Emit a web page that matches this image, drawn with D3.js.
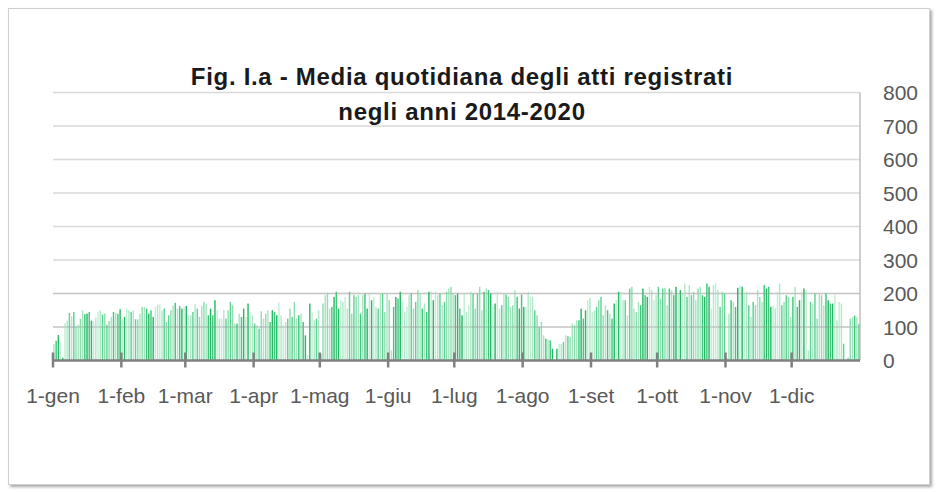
<!DOCTYPE html>
<html>
<head>
<meta charset="utf-8">
<script src="https://cdn.jsdelivr.net/npm/d3@7"></script>
<style>
	body { margin: 0; background: #fff; }
	svg { display: block; font-family: "Liberation Sans", Arial, sans-serif; }
</style>
</head>
<body>
<script>
// daily averages, one array per month (leap year, 366 days)
const gen = [49, 59, 76, 53, 8, 112, 119, 142, 132, 145, 102, 107, 125, 150, 138, 140, 145, 119, 117, 128, 145, 150, 137, 140, 107, 118, 130, 145, 142, 139, 153];
const feb = [125, 130, 155, 150, 145, 150, 123, 123, 140, 160, 160, 155, 140, 150, 130, 160, 167, 167, 150, 155, 115, 135, 150, 165, 172, 155, 163, 155, 160];
const mar = [163, 135, 135, 145, 168, 155, 130, 163, 175, 170, 135, 155, 135, 180, 150, 125, 125, 150, 125, 150, 175, 165, 110, 110, 140, 130, 155, 130, 170, 145, 135];
const apr = [110, 105, 95, 147, 125, 140, 150, 115, 150, 145, 135, 173, 135, 105, 115, 125, 155, 130, 175, 125, 135, 140, 115, 75, 17, 170, 145, 120, 125, 150];
const mag = [20, 170, 195, 200, 155, 160, 190, 205, 155, 180, 175, 190, 155, 205, 140, 195, 190, 195, 140, 195, 200, 155, 200, 180, 190, 160, 155, 200, 200, 145, 200];
const giu = [180, 30, 160, 190, 185, 205, 175, 145, 160, 195, 200, 155, 175, 210, 200, 155, 170, 145, 205, 207, 180, 205, 195, 200, 165, 175, 205, 215, 220, 200];
const lug = [195, 200, 155, 135, 200, 145, 165, 205, 200, 155, 200, 220, 150, 205, 215, 210, 200, 160, 170, 205, 155, 165, 200, 197, 190, 160, 165, 210, 190, 155, 197];
const ago = [160, 160, 205, 190, 190, 150, 135, 100, 115, 75, 65, 63, 60, 35, 3, 35, 50, 50, 55, 75, 73, 70, 110, 105, 120, 120, 155, 125, 150, 180, 187];
const set = [145, 150, 160, 180, 190, 135, 165, 150, 140, 125, 170, 180, 205, 205, 180, 180, 135, 215, 220, 155, 145, 175, 165, 215, 195, 190, 220, 210, 180, 195];
const ott = [220, 185, 215, 217, 165, 215, 210, 195, 220, 200, 210, 200, 230, 190, 225, 195, 205, 180, 215, 220, 195, 190, 230, 220, 155, 225, 230, 210, 160, 205, 200];
const nov = [8, 138, 180, 175, 160, 217, 223, 220, 200, 205, 165, 130, 175, 165, 210, 190, 175, 225, 215, 220, 160, 165, 155, 205, 230, 165, 175, 195, 190, 130];
const dic = [190, 220, 160, 180, 205, 215, 210, 30, 175, 170, 200, 125, 200, 195, 165, 200, 180, 170, 170, 195, 120, 175, 170, 50, 0, 8, 125, 129, 134, 129, 109];

const months = [gen, feb, mar, apr, mag, giu, lug, ago, set, ott, nov, dic];
const monthLabels = ["1-gen", "1-feb", "1-mar", "1-apr", "1-mag", "1-giu", "1-lug", "1-ago", "1-set", "1-ott", "1-nov", "1-dic"];
const yTicks = [0, 100, 200, 300, 400, 500, 600, 700, 800];
const titleLines = ["Fig. I.a - Media quotidiana degli atti registrati", "negli anni 2014-2020"];

const width = 937, height = 492;
const plot = { left: 53, right: 860, top: 92.5, bottom: 360.5 };

const values = months.flat();
const monthStart = [];
months.reduce((acc, m) => { monthStart.push(acc); return acc + m.length; }, 0);

const svg = d3.select("body").append("svg")
	.attr("width", width)
	.attr("height", height);

// frame with a soft shadow
const defs = svg.append("defs");
const shadow = defs.append("filter").attr("id", "shadow")
	.attr("x", "-2%").attr("y", "-2%").attr("width", "104%").attr("height", "106%");
shadow.append("feDropShadow")
	.attr("dx", 2).attr("dy", 2).attr("stdDeviation", 1.5)
	.attr("flood-color", "#000").attr("flood-opacity", 0.35);

svg.append("rect")
	.attr("x", 8.5).attr("y", 8.5)
	.attr("width", 921).attr("height", 476)
	.attr("fill", "#fff")
	.attr("stroke", "#d0d0d0")
	.attr("filter", "url(#shadow)");

const x = d3.scaleBand()
	.domain(d3.range(values.length))
	.range([plot.left, plot.right])
	.paddingInner(0.35)
	.paddingOuter(0.1);

const y = d3.scaleLinear()
	.domain([0, 800])
	.range([plot.bottom, plot.top]);

const step = (plot.right - plot.left) / values.length;

// gridlines
svg.append("g")
	.selectAll("line")
	.data(yTicks.slice(1))
	.join("line")
	.attr("x1", plot.left).attr("x2", plot.right)
	.attr("y1", d => y(d)).attr("y2", d => y(d))
	.attr("stroke", "#d9d9d9")
	.attr("stroke-width", 1.5);

// bars: shades of mint green
const greens = ["#a8e5c2", "#5ed293", "#c3eed5", "#3fc87a", "#8edfb0", "#b2e8c9", "#26b866"];
svg.append("g")
	.selectAll("rect")
	.data(values)
	.join("rect")
	.attr("x", (d, i) => x(i))
	.attr("width", x.bandwidth())
	.attr("y", d => y(d))
	.attr("height", d => y(0) - y(d))
	.attr("fill", (d, i) => greens[(i * 3 + (i >> 2)) % greens.length]);

// gridlines faintly visible through the bars
svg.append("g")
	.selectAll("line")
	.data(yTicks.slice(1, 3))
	.join("line")
	.attr("x1", plot.left).attr("x2", plot.right)
	.attr("y1", d => y(d)).attr("y2", d => y(d))
	.attr("stroke", "#9a9a9a")
	.attr("stroke-opacity", 0.3)
	.attr("stroke-width", 1.5);

// right border of the plot area
svg.append("line")
	.attr("x1", plot.right).attr("x2", plot.right)
	.attr("y1", plot.top).attr("y2", plot.bottom)
	.attr("stroke", "#bfbfbf")
	.attr("stroke-width", 1.5);

// x axis line and month ticks
svg.append("line")
	.attr("x1", plot.left).attr("x2", plot.right)
	.attr("y1", y(0)).attr("y2", y(0))
	.attr("stroke", "#808080")
	.attr("stroke-width", 2.5);

const tickX = i => plot.left + step * monthStart[i];

svg.append("g")
	.selectAll("line")
	.data(monthLabels)
	.join("line")
	.attr("x1", (d, i) => tickX(i)).attr("x2", (d, i) => tickX(i))
	.attr("y1", y(0) - 8).attr("y2", y(0) + 7)
	.attr("stroke", "#808080")
	.attr("stroke-width", 2.5);

svg.append("g")
	.selectAll("text")
	.data(monthLabels)
	.join("text")
	.attr("x", (d, i) => tickX(i))
	.attr("y", 403)
	.attr("text-anchor", "middle")
	.attr("font-size", 21)
	.attr("fill", "#595959")
	.text(d => d);

// y labels on the right
svg.append("g")
	.selectAll("text")
	.data(yTicks)
	.join("text")
	.attr("x", 883)
	.attr("y", d => y(d))
	.attr("dy", "0.36em")
	.attr("font-size", 21)
	.attr("fill", "#595959")
	.text(d => d);

// title
svg.append("g")
	.selectAll("text")
	.data(titleLines)
	.join("text")
	.attr("x", 462)
	.attr("y", (d, i) => 85 + i * 35)
	.attr("text-anchor", "middle")
	.attr("font-size", 24)
	.attr("font-weight", "bold")
	.attr("letter-spacing", 0.7)
	.attr("fill", "#1a1a1a")
	.text(d => d);
</script>
</body>
</html>
